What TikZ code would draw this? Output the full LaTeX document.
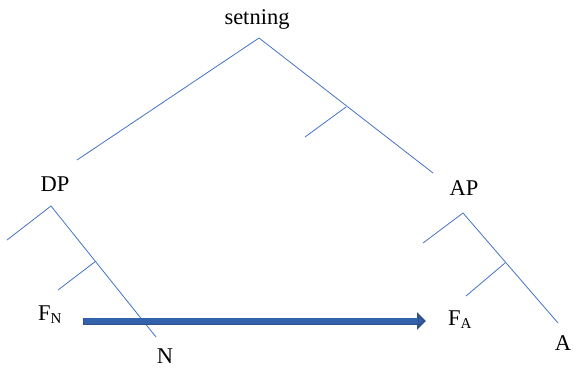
\documentclass[tikz,border=0pt]{standalone}
\usepackage{fontspec}
\setmainfont{LiberationSerif}[Extension=.ttf,UprightFont=*-Regular,BoldFont=*-Bold,ItalicFont=*-Italic]
\usetikzlibrary{arrows.meta}
\definecolor{branch}{HTML}{4472C4}
\definecolor{arrowfill}{HTML}{3362AD}
\definecolor{arrowedge}{HTML}{2F528F}
\newcommand{\lowsub}[1]{\raisebox{-0.3ex}{\fontsize{15}{18}\selectfont #1}}
\begin{document}
\begin{tikzpicture}[x=1pt,y=-1pt,
  lbl/.style={inner sep=0pt,anchor=base,font=\rmfamily\fontsize{22.5}{27}\selectfont},
  edge/.style={draw=branch,line width=0.8pt}]
\useasboundingbox (0,0) rectangle (573,368);
% labels (placed by their baselines)
\node[lbl] (s) at (257,24) {setning};
\node[lbl] (dp) at (55,191) {DP};
\node[lbl] (ap) at (464,195.5) {AP};
\node[lbl,anchor=base west] (fn) at (38,320) {F\lowsub{N}};
\node[lbl] (n) at (165,363) {N};
\node[lbl,anchor=base west] (fa) at (448,325) {F\lowsub{A}};
\node[lbl] (a) at (563,350) {A};
% tree points
\coordinate (s0) at (259,38);
\coordinate (sL) at (77,160);
\coordinate (sR) at (433,173);
\coordinate (sB) at (346,107);
\coordinate (sBe) at (305,137);
\coordinate (d0) at (51,206);
\coordinate (dL) at (7,240);
\coordinate (dR) at (156,337);
\coordinate (dB) at (96,261);
\coordinate (dBe) at (58,290);
\coordinate (a0) at (463,213);
\coordinate (aL) at (423,243);
\coordinate (aR) at (558,323);
\coordinate (aB) at (505,263);
\coordinate (aBe) at (466,296);
% branches
\draw[edge] (sL) -- (s0) -- (sR);
\draw[edge] (sB) -- (sBe);
\draw[edge] (dL) -- (d0) -- (dR);
\draw[edge] (dB) -- (dBe);
\draw[edge] (aL) -- (a0) -- (aR);
\draw[edge] (aB) -- (aBe);
% movement arrow
\coordinate (m0) at (83,321);
\coordinate (m1) at (426,321);
\draw[draw=arrowedge,line width=7pt,-{Triangle[width=17pt,length=9pt,fill=arrowfill]}] (m0) -- (m1);
\draw[arrowfill,line width=5.6pt,shorten >=8pt] (m0) ++(0.7,0) -- (m1);
\end{tikzpicture}
\end{document}
